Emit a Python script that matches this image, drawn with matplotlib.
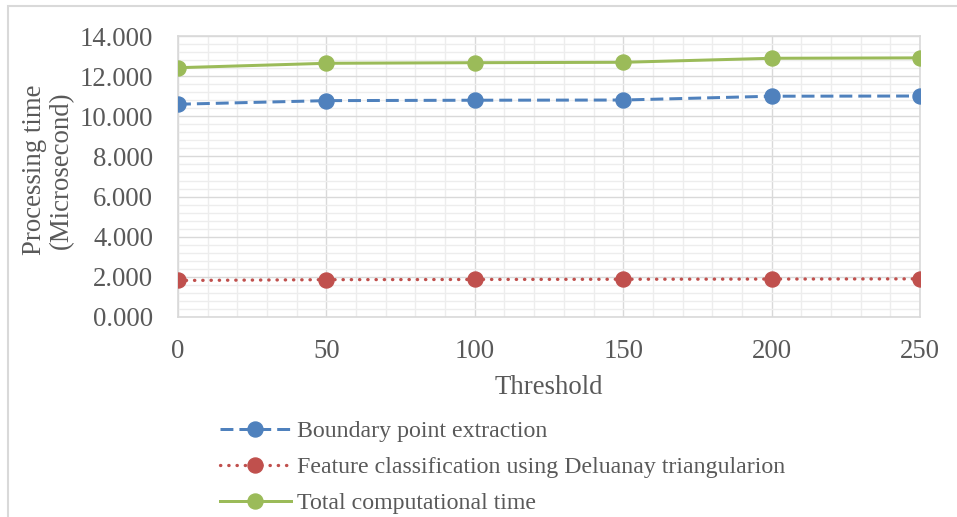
import matplotlib
matplotlib.use("Agg")
import matplotlib.pyplot as plt
from matplotlib.ticker import MultipleLocator, FuncFormatter
from matplotlib.patches import Rectangle

thresholds = [0, 50, 100, 150, 200, 250]
boundary = [10.60, 10.78, 10.80, 10.81, 11.00, 11.01]
feature = [1.82, 1.86, 1.87, 1.88, 1.89, 1.90]
total = [12.42, 12.64, 12.67, 12.69, 12.89, 12.91]
labels = ["Boundary point extraction",
          "Feature classification using Deluanay triangularion",
          "Total computational time"]

plt.rcParams['font.family'] = ['Liberation Serif', 'DejaVu Serif']
txt = '#595959'

fig = plt.figure(figsize=(9.57, 5.17), dpi=100)
W, H = 957, 517
ax = fig.add_axes([178 / W, 1 - 317 / H, (920 - 178) / W, (317 - 36) / H])

# outer frame
fig.add_artist(Rectangle((8 / W, -0.1), 1.2, 1 - 6 / H + 0.1, transform=fig.transFigure,
                         fill=False, edgecolor='#D9D9D9', linewidth=1.5, zorder=0))

lw = 3.0 * 72 / 100
ms = 15 * 72 / 100
ax.plot(thresholds, boundary, color='#4F81BD', lw=lw, linestyle=(0, (4.3, 2)),
        marker='o', ms=ms, label=labels[0], zorder=3)
ax.plot(thresholds, feature, color='#C0504D', lw=lw * 1.1, linestyle=(0, (0.1, 2.4)),
        dash_capstyle='round', marker='o', ms=ms, label=labels[1], zorder=3)
ax.plot(thresholds, total, color='#9BBB59', lw=lw, linestyle='-',
        marker='o', ms=ms, label=labels[2], zorder=3)

ax.set_xlim(0, 250)
ax.set_ylim(0, 14)
ax.xaxis.set_major_locator(MultipleLocator(50))
ax.xaxis.set_minor_locator(MultipleLocator(10))
ax.yaxis.set_major_locator(MultipleLocator(2))
ax.yaxis.set_minor_locator(MultipleLocator(0.4))
ax.yaxis.set_major_formatter(FuncFormatter(lambda v, p: f"{v:.3f}"))
ax.grid(which='major', color='#D9D9D9', lw=1.0, zorder=1)
ax.grid(which='minor', color='#EDEDED', lw=1.0, zorder=0)
ax.set_axisbelow(True)
for s in ax.spines.values():
    s.set_color('#D9D9D9')
    s.set_linewidth(1.2)
ax.tick_params(which='both', length=0, labelsize=19.3, labelcolor=txt)
ax.tick_params(axis='x', pad=15.5)
ax.tick_params(axis='y', pad=18)

ax.set_xlabel("Threshold", fontsize=19.3, color=txt, labelpad=8)
fig.text(48 / W, 1 - 170 / H, "Processing time\n(Microsecond)", rotation=90,
         ha='center', va='center', fontsize=19.3, color=txt, linespacing=1.15)

leg = fig.legend(loc='upper left', bbox_to_anchor=(210 / W, 1 - 411 / H),
                 frameon=False, fontsize=17.2, handlelength=3.0, handletextpad=0.25,
                 labelspacing=0.6, borderaxespad=0)
for t in leg.get_texts():
    t.set_color(txt)

fig.savefig("out.png", dpi=100)
